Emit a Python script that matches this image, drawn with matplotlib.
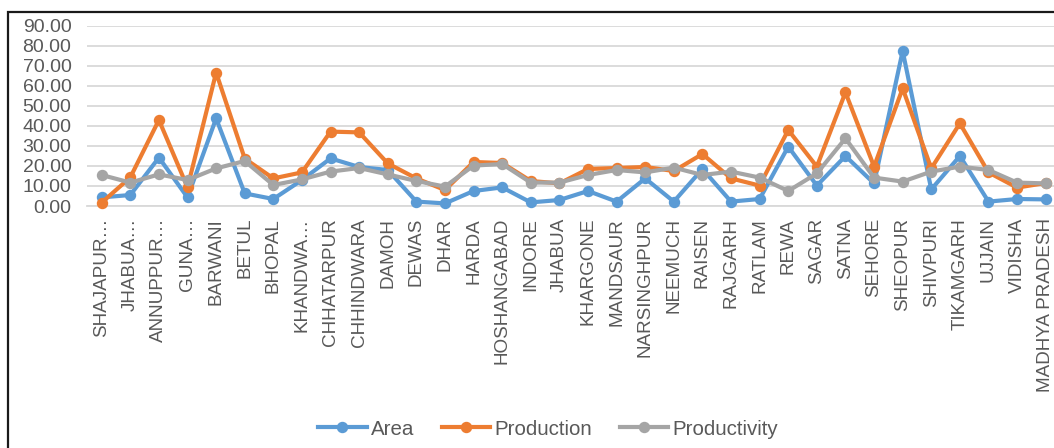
import matplotlib
matplotlib.use("Agg")
import matplotlib.pyplot as plt
from matplotlib.patches import Rectangle

plt.rcParams['font.family'] = ['Liberation Sans', 'DejaVu Sans']

districts = [
    "SHAJAPUR\u2026", "JHABUA\u2026", "ANNUPPUR\u2026", "GUNA\u2026", "BARWANI", "BETUL",
    "BHOPAL", "KHANDWA\u2026", "CHHATARPUR", "CHHINDWARA", "DAMOH", "DEWAS", "DHAR",
    "HARDA", "HOSHANGABAD", "INDORE", "JHABUA", "KHARGONE", "MANDSAUR",
    "NARSINGHPUR", "NEEMUCH", "RAISEN", "RAJGARH", "RATLAM", "REWA", "SAGAR",
    "SATNA", "SEHORE", "SHEOPUR", "SHIVPURI", "TIKAMGARH", "UJJAIN", "VIDISHA",
    "MADHYA PRADESH",
]

area = [4.3, 5.5, 24.2, 4.3, 43.8, 6.3, 3.5, 13.0, 23.8, 19.5, 18.0, 2.2, 1.3,
        7.5, 9.3, 1.8, 3.0, 7.5, 2.2, 13.8, 2.2, 18.5, 2.2, 3.5, 29.7, 10.2,
        25.0, 11.3, 77.5, 8.3, 25.0, 2.2, 3.5, 3.3]

production = [1.7, 14.3, 43.0, 9.3, 66.7, 23.7, 13.8, 16.8, 37.2, 36.8, 21.3,
              13.8, 8.0, 22.0, 21.5, 12.5, 11.3, 18.5, 19.0, 19.5, 17.5, 26.0,
              13.8, 10.2, 38.0, 19.7, 56.8, 19.7, 58.8, 18.8, 41.3, 16.8, 9.2,
              11.5]

productivity = [15.5, 11.7, 15.8, 13.0, 18.8, 22.5, 10.5, 13.3, 17.2, 19.0, 15.8,
                12.5, 9.7, 20.2, 21.0, 11.7, 11.7, 15.5, 18.0, 16.8, 19.2, 15.5,
                17.2, 14.2, 7.5, 16.3, 33.8, 14.2, 12.2, 17.2, 19.7, 18.0, 11.7,
                11.3]

yticks = [0, 10, 20, 30, 40, 50, 60, 70, 80, 90]

W, H = 1054, 448
fig = plt.figure(figsize=(W / 100, H / 100), dpi=100)

# plot area in pixel coordinates (left, bottom, right, top measured from top-left)
left_px, right_px, top_px, bottom_px = 87.4, 1060.0, 26.0, 206.0
ax = fig.add_axes([left_px / W, 1 - bottom_px / H,
                   (right_px - left_px) / W, (bottom_px - top_px) / H])

text_col = "#595959"
series = [
    ("Area", area, "#5B9BD5"),
    ("Production", production, "#ED7D31"),
    ("Productivity", productivity, "#A5A5A5"),
]
x = list(range(len(districts)))
for name, vals, col in series:
    ax.plot(x, vals, color=col, lw=3.0, marker="o", ms=7.2,
            solid_joinstyle="round", label=name, clip_on=False, zorder=3)

ax.set_xlim(-0.5, len(districts) - 0.5)
ax.set_ylim(0, 90)
ax.set_yticks(yticks)
ax.set_yticklabels([f"{v:.2f}" for v in yticks], fontsize=14, color=text_col)
ax.set_xticks(x)
ax.set_xticklabels(districts, rotation=90, fontsize=13.6, color=text_col,
                   ha="center", va="top")
ax.tick_params(axis="both", length=0)
ax.tick_params(axis="x", pad=8.5)
ax.tick_params(axis="y", pad=11.5)

ax.grid(axis="y", color="#D9D9D9", lw=1.3, zorder=0)
ax.set_axisbelow(True)
for s in ["top", "right", "left"]:
    ax.spines[s].set_visible(False)
ax.spines["bottom"].set_color("#D9D9D9")
ax.spines["bottom"].set_linewidth(1.3)

leg = fig.legend(loc="center", bbox_to_anchor=(548 / W, 1 - 429 / H), ncol=3,
                 frameon=False, fontsize=14.8, handlelength=2.35,
                 columnspacing=1.35, handletextpad=0.2, labelcolor=text_col)

# outer chart frame (left and top edges visible)
fig.add_artist(Rectangle((8 / W, -0.05), 1.2, 1 - 12 / H + 0.05,
                         transform=fig.transFigure, fill=False,
                         edgecolor="#1a1a1a", lw=1.6))

fig.savefig("out.png", dpi=100)
